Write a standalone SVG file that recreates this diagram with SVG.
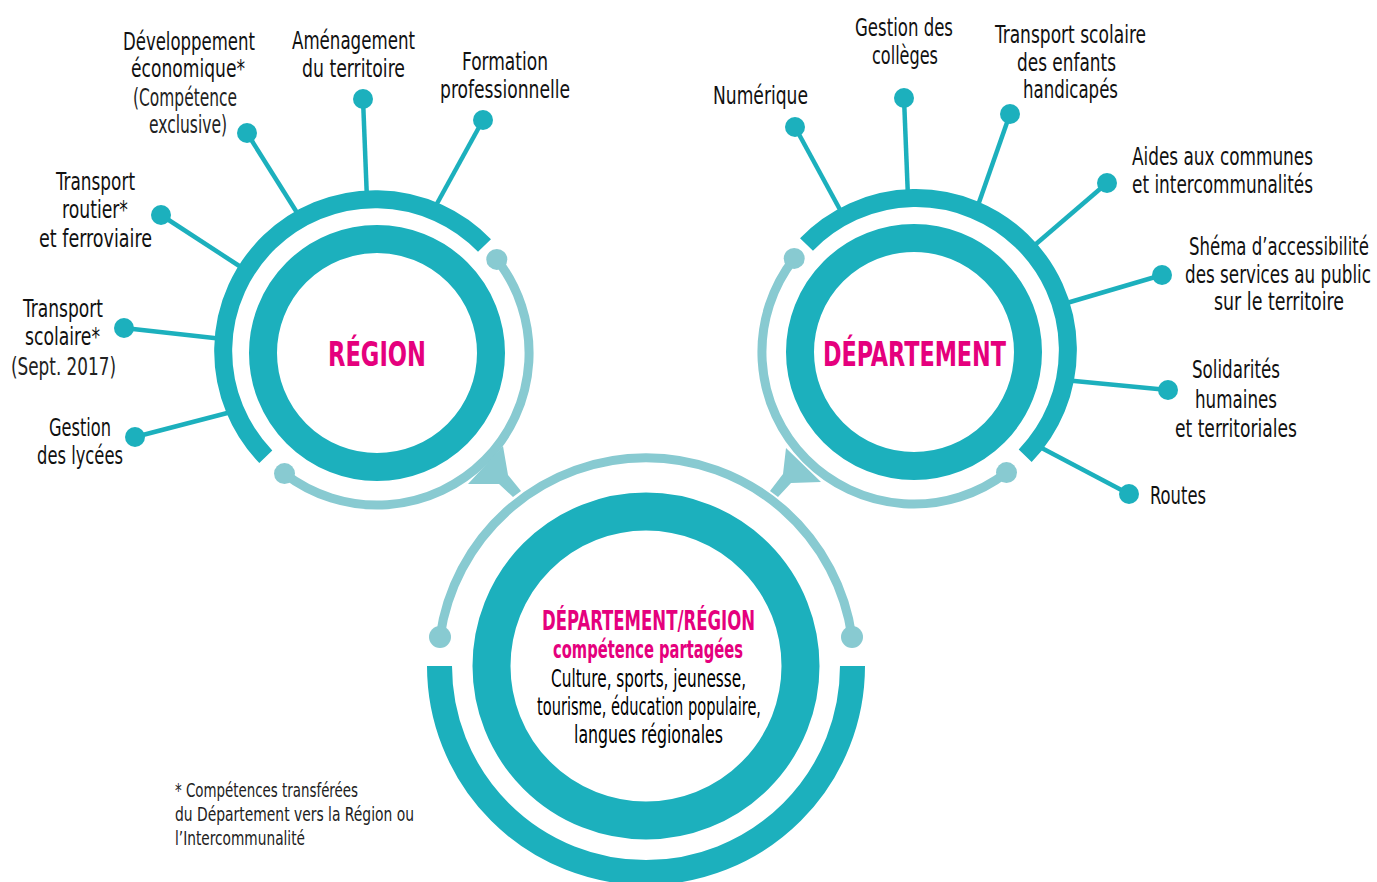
<svg xmlns="http://www.w3.org/2000/svg" width="1377" height="882" viewBox="0 0 1377 882">
<style>
.bg{fill:#ffffff}
.ring{fill:none;stroke:#1cb0bd}
.arc{fill:none;stroke:#1cb0bd;stroke-width:18}
.light{fill:none;stroke:#88cad1;stroke-width:9}
.lightfill{fill:#88cad1}
.ldot{fill:#88cad1}
.spoke{stroke:#1cb0bd;stroke-width:4.5;fill:none}
.dot{fill:#1cb0bd}
text{font-family:"Liberation Sans Narrow","DejaVu Sans Condensed","Liberation Sans",sans-serif}
.lbl{font-size:25px;fill:#111;text-anchor:middle}
.lbr{font-size:25px;fill:#111;text-anchor:end}
.lt{font-size:25px;fill:#222;text-anchor:middle}
.title{font-size:33px;font-weight:bold;fill:#e5007d;text-anchor:middle}
.st{font-size:27px;font-weight:bold;fill:#e5007d;text-anchor:middle}
.st2{font-size:24px;font-weight:bold;fill:#e5007d;text-anchor:middle}
.blk{font-size:25px;fill:#000;text-anchor:middle}
.foot{font-size:19px;fill:#222}
</style>
<rect class="bg" x="0" y="0" width="1377" height="882"/>

<g id="connectors">
  <path class="light" d="M 496.8 259.4 A 152 152 0 0 1 284.5 473.6"/>
  <path class="light" d="M 1006.5 472.6 A 152 152 0 0 1 794.2 258.4"/>
  <path class="light" d="M 440 637 A 208 208 0 0 1 852 637"/>
  <polygon class="lightfill" points="503,446 508,475 521,491 513,497 499,484 468,484"/>
  <polygon class="lightfill" points="786,448 783,474 770,491 778,497 791,483 821,482"/>
  <circle class="ldot" cx="496.8" cy="259.4" r="10.5"/>
  <circle class="ldot" cx="284.5" cy="473.6" r="10.5"/>
  <circle class="ldot" cx="794.2" cy="258.4" r="10.5"/>
  <circle class="ldot" cx="1006.5" cy="472.6" r="10.5"/>
  <circle class="ldot" cx="440" cy="637" r="11"/>
  <circle class="ldot" cx="852" cy="637" r="11"/>
  <line class="spoke" x1="247" y1="133" x2="301" y2="219"/>
  <line class="spoke" x1="363" y1="99" x2="367" y2="200"/>
  <line class="spoke" x1="483" y1="120" x2="434" y2="209"/>
  <line class="spoke" x1="161" y1="215" x2="247" y2="271"/>
  <line class="spoke" x1="124" y1="328" x2="223" y2="339"/>
  <line class="spoke" x1="135" y1="437" x2="235" y2="411"/>
  <line class="spoke" x1="795" y1="127" x2="844" y2="217"/>
  <line class="spoke" x1="904" y1="98" x2="908" y2="198"/>
  <line class="spoke" x1="1010" y1="114" x2="976" y2="211"/>
  <line class="spoke" x1="1107" y1="183" x2="1029" y2="250"/>
  <line class="spoke" x1="1162" y1="275" x2="1060" y2="305"/>
  <line class="spoke" x1="1168" y1="390" x2="1064" y2="380"/>
  <line class="spoke" x1="1129" y1="494" x2="1036" y2="445"/>
</g>

<g id="region">
  <path class="arc" d="M 265.8 456.7 A 152 152 0 0 1 484.5 245.5"/>
  <circle class="ring" cx="377" cy="353" r="114" stroke-width="28"/>
  <text class="title" x="377" y="366" textLength="98" lengthAdjust="spacingAndGlyphs">RÉGION</text>
</g>

<g id="departement">
  <path class="arc" d="M 806.5 244.5 A 152 152 0 0 1 1025.2 455.7"/>
  <circle class="ring" cx="914" cy="352" r="114" stroke-width="28"/>
  <text class="title" x="914.5" y="366" textLength="183" lengthAdjust="spacingAndGlyphs">DÉPARTEMENT</text>
</g>

<g id="partage">
  <path class="ring" stroke-width="25" d="M 852.5 666 A 206.5 206.5 0 0 1 439.5 666"/>
  <circle class="ring" cx="646" cy="666" r="154.5" stroke-width="38"/>
  <text class="st" x="648.5" y="630" textLength="213" lengthAdjust="spacingAndGlyphs">DÉPARTEMENT/RÉGION</text>
  <text class="st2" x="648" y="658" textLength="190" lengthAdjust="spacingAndGlyphs">compétence partagées</text>
  <text class="blk" x="648.5" y="687" textLength="195" lengthAdjust="spacingAndGlyphs">Culture, sports, jeunesse,</text>
  <text class="blk" x="649" y="715" textLength="224" lengthAdjust="spacingAndGlyphs">tourisme, éducation populaire,</text>
  <text class="blk" x="648.5" y="743" textLength="149" lengthAdjust="spacingAndGlyphs">langues régionales</text>
</g>

<g id="r-dev">
  <circle class="dot" cx="247" cy="133" r="10"/>
  <text class="lbl" x="189" y="50" textLength="132" lengthAdjust="spacingAndGlyphs">Développement</text>
  <text class="lbl" x="188" y="77" textLength="114" lengthAdjust="spacingAndGlyphs">économique*</text>
  <text class="lt" x="185" y="106" textLength="104" lengthAdjust="spacingAndGlyphs">(Compétence</text>
  <text class="lt" x="188" y="133" textLength="78" lengthAdjust="spacingAndGlyphs">exclusive)</text>
</g>
<g id="r-amenagement">
  <circle class="dot" cx="363" cy="99" r="10"/>
  <text class="lbl" x="353.5" y="49" textLength="123" lengthAdjust="spacingAndGlyphs">Aménagement</text>
  <text class="lbl" x="353.5" y="77" textLength="103" lengthAdjust="spacingAndGlyphs">du territoire</text>
</g>
<g id="r-formation">
  <circle class="dot" cx="483" cy="120" r="10"/>
  <text class="lbl" x="505" y="70" textLength="86" lengthAdjust="spacingAndGlyphs">Formation</text>
  <text class="lbl" x="505" y="98" textLength="130" lengthAdjust="spacingAndGlyphs">professionnelle</text>
</g>
<g id="r-transport-routier">
  <circle class="dot" cx="161" cy="215" r="10"/>
  <text class="lbl" x="95.5" y="190" textLength="79" lengthAdjust="spacingAndGlyphs">Transport</text>
  <text class="lbl" x="95" y="218" textLength="66" lengthAdjust="spacingAndGlyphs">routier*</text>
  <text class="lbl" x="95.5" y="247" textLength="113" lengthAdjust="spacingAndGlyphs">et ferroviaire</text>
</g>
<g id="r-transport-scolaire">
  <circle class="dot" cx="124" cy="328" r="10"/>
  <text class="lbl" x="63" y="317" textLength="80" lengthAdjust="spacingAndGlyphs">Transport</text>
  <text class="lbl" x="62.5" y="345" textLength="75" lengthAdjust="spacingAndGlyphs">scolaire*</text>
  <text class="lt" x="63.5" y="375" textLength="105" lengthAdjust="spacingAndGlyphs">(Sept. 2017)</text>
</g>
<g id="r-lycees">
  <circle class="dot" cx="135" cy="437" r="10"/>
  <text class="lbl" x="80" y="436" textLength="62" lengthAdjust="spacingAndGlyphs">Gestion</text>
  <text class="lbl" x="80" y="464" textLength="86" lengthAdjust="spacingAndGlyphs">des lycées</text>
</g>

<g id="d-numerique">
  <circle class="dot" cx="795" cy="127" r="10"/>
  <text class="lbl" x="760.5" y="104" textLength="95" lengthAdjust="spacingAndGlyphs">Numérique</text>
</g>
<g id="d-colleges">
  <circle class="dot" cx="904" cy="98" r="10"/>
  <text class="lbl" x="904" y="36" textLength="98" lengthAdjust="spacingAndGlyphs">Gestion des</text>
  <text class="lbl" x="905" y="64" textLength="66" lengthAdjust="spacingAndGlyphs">collèges</text>
</g>
<g id="d-transport">
  <circle class="dot" cx="1010" cy="114" r="10"/>
  <text class="lbl" x="1070.5" y="43" textLength="151" lengthAdjust="spacingAndGlyphs">Transport scolaire</text>
  <text class="lbl" x="1066.5" y="71" textLength="99" lengthAdjust="spacingAndGlyphs">des enfants</text>
  <text class="lbl" x="1070.5" y="98" textLength="95" lengthAdjust="spacingAndGlyphs">handicapés</text>
</g>
<g id="d-aides">
  <circle class="dot" cx="1107" cy="183" r="10"/>
  <text class="lbl" x="1222.5" y="165" textLength="181" lengthAdjust="spacingAndGlyphs">Aides aux communes</text>
  <text class="lbl" x="1222.5" y="193" textLength="181" lengthAdjust="spacingAndGlyphs">et intercommunalités</text>
</g>
<g id="d-schema">
  <circle class="dot" cx="1162" cy="275" r="10"/>
  <text class="lbr" x="1369" y="255" textLength="180" lengthAdjust="spacingAndGlyphs">Shéma d’accessibilité</text>
  <text class="lbr" x="1371" y="283" textLength="186" lengthAdjust="spacingAndGlyphs">des services au public</text>
  <text class="lbr" x="1344" y="310" textLength="130" lengthAdjust="spacingAndGlyphs">sur le territoire</text>
</g>
<g id="d-solidarites">
  <circle class="dot" cx="1168" cy="390" r="10"/>
  <text class="lbl" x="1236" y="378" textLength="88" lengthAdjust="spacingAndGlyphs">Solidarités</text>
  <text class="lbl" x="1236" y="408" textLength="82" lengthAdjust="spacingAndGlyphs">humaines</text>
  <text class="lbl" x="1236" y="437" textLength="122" lengthAdjust="spacingAndGlyphs">et territoriales</text>
</g>
<g id="d-routes">
  <circle class="dot" cx="1129" cy="494" r="10"/>
  <text class="lbl" x="1178" y="504" textLength="56" lengthAdjust="spacingAndGlyphs">Routes</text>
</g>

<g id="footnote">
  <text class="foot" x="175" y="797" textLength="183" lengthAdjust="spacingAndGlyphs">* Compétences transférées</text>
  <text class="foot" x="175" y="821" textLength="239" lengthAdjust="spacingAndGlyphs">du Département vers la Région ou</text>
  <text class="foot" x="175" y="845" textLength="130" lengthAdjust="spacingAndGlyphs">l’Intercommunalité</text>
</g>
</svg>
